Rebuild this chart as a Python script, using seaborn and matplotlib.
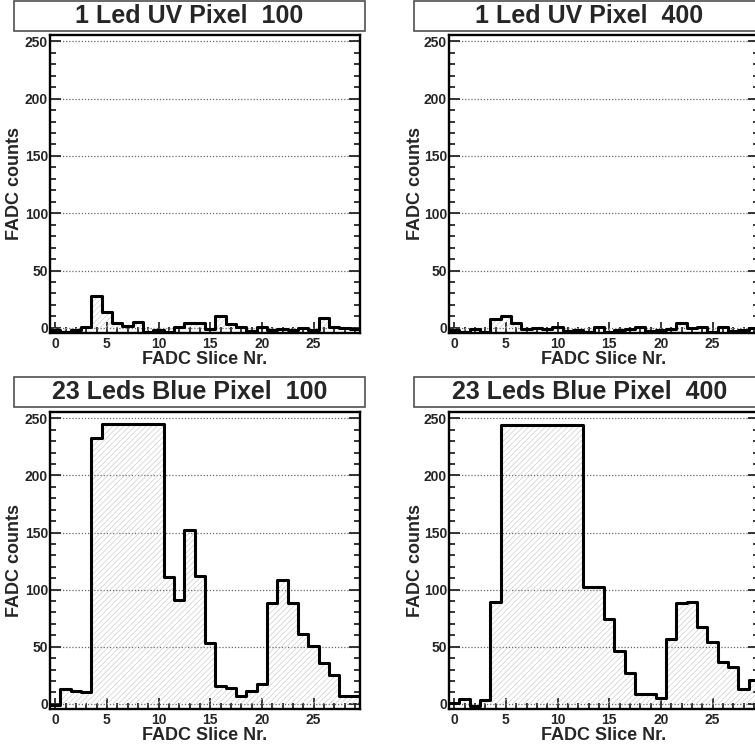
"""FADC pulse shapes for UV and blue LED pulses, two pixels."""

import numpy as np
import seaborn as sns
import matplotlib.pyplot as plt
from matplotlib.patches import Rectangle
from matplotlib.ticker import MultipleLocator

###################################################################################################
###################################################################################################

slices = np.arange(30)

uv_pix100 = [-2, -4, -2, 1, 28, 14, 4, 2, 5, -4, -2, -4, 1, 4, 4,
             -1, 10, 3, 1, -3, 1, -2, -1, -2, 0, -2, 9, 1, 0, -1]
uv_pix400 = [-2, -4, -1, -4, 8, 10, 4, -1, 0, -1, 1, -3, -2, -4, 1,
             -4, -2, -1, 1, -3, -2, -1, 4.5, 0, 1, -4, 1, -3, -2, 0]
blue_pix100 = [-1, 13, 11, 10, 233, 245, 245, 245, 245, 245, 245, 111, 91, 152, 112,
               53, 16, 14, 7, 11, 17, 88, 108, 88, 61, 51, 36, 25, 7, 7]
blue_pix400 = [1, 4, -2, 3, 89, 244, 244, 244, 244, 244, 244, 244, 244, 102, 102,
               74, 46, 27, 9, 9, 5, 57, 88, 89, 67, 54, 37, 32, 13, 21]

titles = ['1 Led UV Pixel  100', '1 Led UV Pixel  400',
          '23 Leds Blue Pixel  100', '23 Leds Blue Pixel  400']
series = [uv_pix100, uv_pix400, blue_pix100, blue_pix400]

sns.set_style('white')
plt.rcParams['font.family'] = ['Liberation Sans', 'DejaVu Sans']
plt.rcParams['font.weight'] = 'bold'
plt.rcParams['hatch.linewidth'] = 0.5

W, H = 755, 750
fig = plt.figure(figsize=[W / 100, H / 100], dpi=100)

# Panel geometry in pixels: (axes left, axes top, axes bottom, title box left, box top, box bottom)
panels = [(50, 35, 333, 14, 1, 31),
          (449, 35, 333, 414, 1, 31),
          (50, 412, 709, 14, 377, 407),
          (449, 412, 709, 414, 377, 407)]
ax_w = 310
box_w = 351

for (left, top, bot, bx, btop, bbot), title, vals in zip(panels, titles, series):

    ax = fig.add_axes([left / W, 1 - bot / H, ax_w / W, (bot - top) / H])

    # Hatched fill & step outline
    sns.histplot(x=slices, weights=vals, binwidth=1, binrange=(-0.5, 29.5), element='step',
                 fill=True, color='#cfcfcf', linewidth=0, ax=ax)
    fill = ax.collections[-1]
    fill.set_facecolor('none')
    fill.set_edgecolor('#cfcfcf')
    fill.set_alpha(1)
    fill.set_hatch('//////')
    sns.histplot(x=slices, weights=vals, binwidth=1, binrange=(-0.5, 29.5), element='step',
                 fill=False, color='black', linewidth=2.2, ax=ax)

    ax.set_xlim(-0.5, 29.5)
    ax.set_ylim(-4.5, 255.5)

    ax.xaxis.set_major_locator(MultipleLocator(5))
    ax.xaxis.set_minor_locator(MultipleLocator(1))
    ax.yaxis.set_major_locator(MultipleLocator(50))
    ax.yaxis.set_minor_locator(MultipleLocator(10))
    ax.tick_params(which='both', direction='in', left=True, right=True, bottom=True, top=False,
                   width=1.3, labelsize=10)
    ax.tick_params(which='major', length=8)
    ax.tick_params(which='minor', length=4)
    ax.tick_params(axis='y', pad=1.5)
    ax.tick_params(axis='x', pad=3)
    for lab in ax.get_xticklabels() + ax.get_yticklabels():
        lab.set_fontweight('bold')

    ax.yaxis.grid(True, linestyle=(0, (1, 1.5)), color='#666666', linewidth=0.9)
    ax.set_axisbelow(True)

    for spine in ax.spines.values():
        spine.set_linewidth(1.7)
        spine.set_color('black')

    ax.set_xlabel('FADC Slice Nr.', fontsize=13, fontweight='bold')
    ax.set_ylabel('FADC counts', fontsize=13, fontweight='bold')
    ax.xaxis.set_label_coords(0.5, -0.062)
    ax.yaxis.set_label_coords(-0.087 if left < 100 else -0.08, 0.5)

    # Title box
    fig.patches.append(Rectangle((bx / W, 1 - bbot / H), box_w / W, (bbot - btop) / H,
                                 transform=fig.transFigure, facecolor='white',
                                 edgecolor='#505050', linewidth=1.2))
    fig.text((bx + box_w / 2) / W, 1 - (btop + bbot) / 2 / H, title, fontsize=18,
             fontweight='bold', ha='center', va='center')

plt.savefig('out.png', dpi=100)
